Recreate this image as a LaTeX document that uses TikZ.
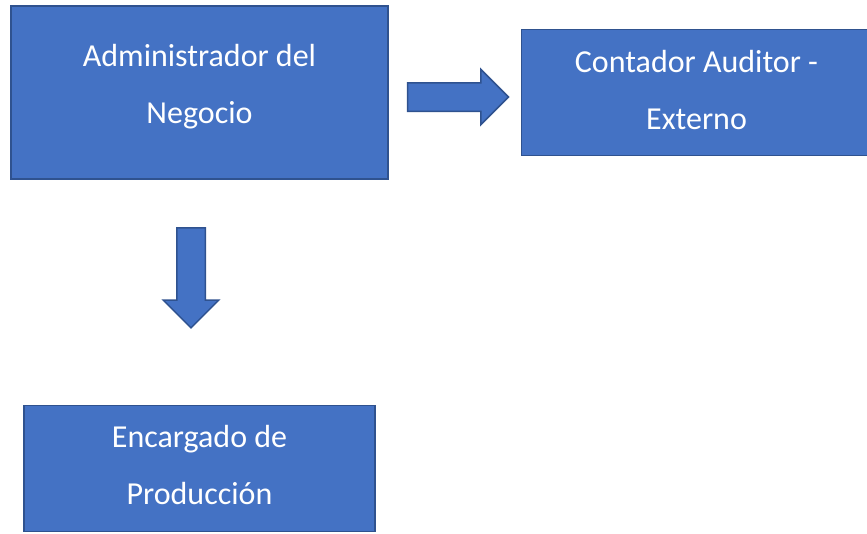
\documentclass[tikz,border=0pt]{standalone}
\usepackage{fontspec}
\setmainfont{Carlito}
\usetikzlibrary{shapes,arrows,positioning}
\definecolor{boxblue}{HTML}{4472C4}
\definecolor{edgeblue}{HTML}{2F528F}

\begin{document}
\begin{tikzpicture}[% styles shared by the boxes and the block arrows
      every node/.style={
        align=center,     % so that "\\" breaks the line
        text=white,
        font=\fontsize{32}{57}\selectfont
      },
      box/.style={rectangle,line width=1.5pt,draw=edgeblue,fill=boxblue},
      blockarrow/.style={single arrow,line width=1.5pt,draw=edgeblue,fill=boxblue,
        inner sep=13.5pt,single arrow head extend=13.5pt,
        single arrow head indent=0pt}
    ]
    \useasboundingbox (0,0) rectangle (867pt,-533pt);
    \node[box,minimum width=377pt,minimum height=173pt,text depth=17pt](R1) at (199.5pt,-92.5pt){Administrador del \\ Negocio};
    \node[box,minimum width=350pt,minimum height=126pt,text depth=5pt](R2)[right=132pt of R1]{Contador Auditor - \\ Externo};
    \node[box,minimum width=351pt,minimum height=126pt,text depth=7pt](R3)[below=225pt of R1]{Encargado de \\ Producción};
    \node[blockarrow,minimum height=101pt,yshift=-4.5pt,xshift=-1pt](A1)[right=19pt of R1]{};
    \node[blockarrow,minimum height=100pt,shape border rotate=270](A2) at ([xshift=-8.5pt,yshift=-91pt]R1.south){};
  \end{tikzpicture}
\end{document}
